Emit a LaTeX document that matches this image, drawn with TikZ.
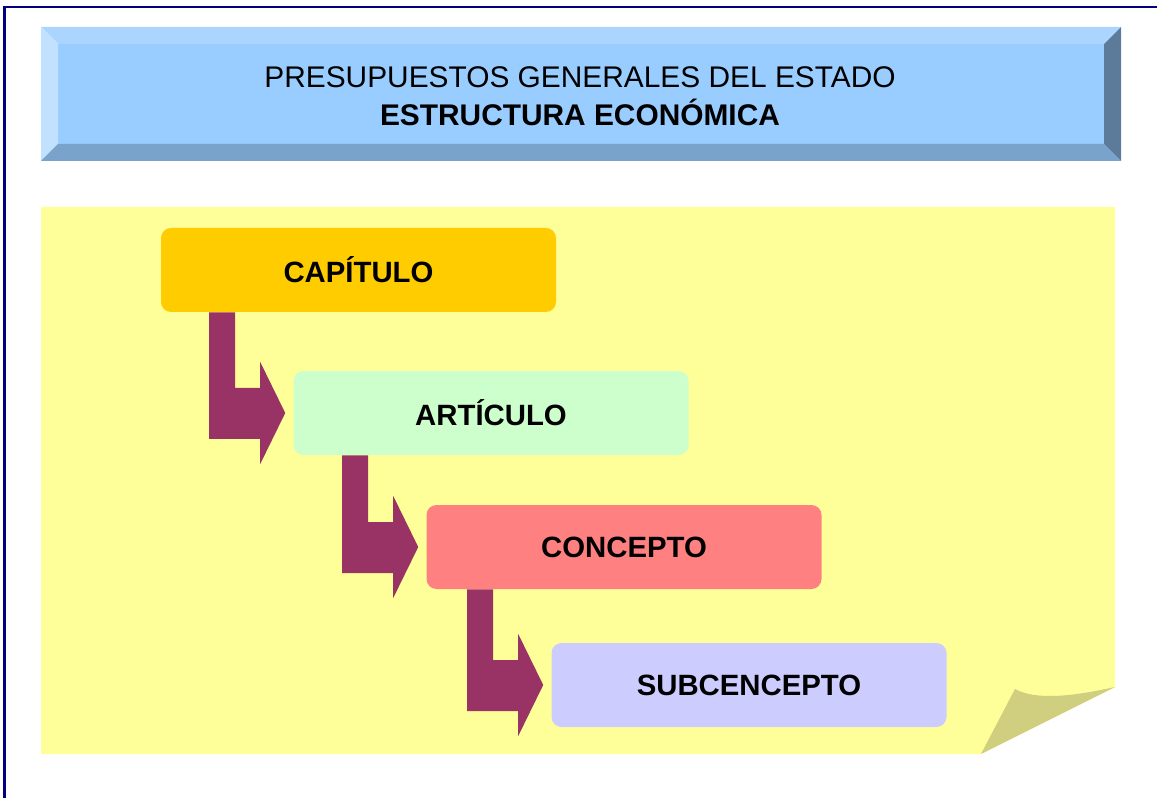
\documentclass[tikz,border=0pt]{standalone}
\usepackage{fontspec}
\setmainfont{Liberation Sans}
\usetikzlibrary{calc}
\definecolor{frameblue}{RGB}{0,0,128}
\definecolor{bevtop}{RGB}{171,213,255}
\definecolor{bevleft}{RGB}{194,225,255}
\definecolor{bevmid}{RGB}{153,204,255}
\definecolor{bevbottom}{RGB}{122,163,204}
\definecolor{bevright}{RGB}{92,122,153}
\definecolor{notepaper}{RGB}{255,255,153}
\definecolor{notecurl}{RGB}{207,207,127}
\definecolor{capcol}{RGB}{255,204,0}
\definecolor{artcol}{RGB}{204,255,204}
\definecolor{concol}{RGB}{255,128,128}
\definecolor{subcol}{RGB}{204,204,255}
\definecolor{bendcol}{RGB}{153,51,102}
\begin{document}
\begin{tikzpicture}[x=0.75pt,y=-0.75pt,
    levelbox/.style={rounded corners=7.5pt,minimum width=296.25pt,minimum height=63pt,
        inner sep=0pt,font=\fontsize{22}{26}\selectfont\bfseries},
    bendarrow/.style={fill=bendcol}]
    \useasboundingbox (0,0) rectangle (1157,798);
    \fill[color=frameblue] (3,6) rectangle (5.5,798);
    \fill[color=frameblue] (3,6) rectangle (1157,8.5);
    \fill[color=bevmid] (58,44) rectangle (1104,144);
    \fill[color=bevtop] (41,27) -- (1121,27) -- (1104,44) -- (58,44) -- cycle;
    \fill[color=bevleft] (41,27) -- (58,44) -- (58,144) -- (41,161) -- cycle;
    \fill[color=bevbottom] (41,161) -- (58,144) -- (1104,144) -- (1121,161) -- cycle;
    \fill[color=bevright] (1121,27) -- (1104,44) -- (1104,144) -- (1121,161) -- cycle;
    \node[align=center,font=\fontsize{22.4}{28.5}\selectfont] (title) at (580,96)
        {PRESUPUESTOS GENERALES DEL ESTADO\\\textbf{ESTRUCTURA ECONÓMICA}};
    \fill[color=notepaper] (41,207) -- (1115,207) -- (1115,687) -- (981,754) -- (41,754) -- cycle;
    \fill[color=notecurl] (981,754) -- (1015,689) .. controls (1035,700) and (1070,697) .. (1115,687) -- cycle;
    \node[levelbox,fill=capcol] (cap) at (358.5,270) {CAPÍTULO};
    \node[levelbox,fill=artcol] (art) at (491,413) {ARTÍCULO};
    \node[levelbox,fill=concol] (con) at (624,547) {CONCEPTO};
    \node[levelbox,fill=subcol] (sub) at (749,685) {SUBCENCEPTO};
    \foreach \a/\b in {cap/art,con/sub,art/con}
        {\coordinate (\b-l) at ($(\b.west)+(-84,0)$);
        \fill[bendarrow] (\b-l |- \a.south) -- ++(26,0) -- ($(\b.west)+(-58,-25)$) -- ++(25,0)
            -- ++(0,-26) -- ($(\b.west)+(-8,0)$) -- ++(-25,51) -- ++(0,-25) -- ++(-51,0) -- cycle;}
\end{tikzpicture}
\end{document}
